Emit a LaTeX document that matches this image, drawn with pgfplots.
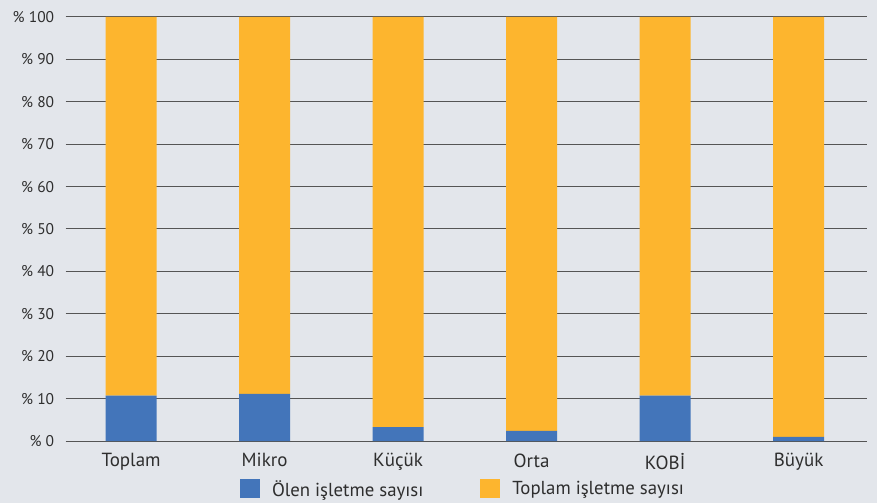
\documentclass[border=0pt]{standalone}
\usepackage{fontspec}
\setmainfont{PT Sans}
\usepackage{pgfplots}
\pgfplotsset{compat=1.18}
\definecolor{bg}{HTML}{E3E6EB}
\definecolor{bblue}{HTML}{4375BA}
\definecolor{borange}{HTML}{FDB52E}
\definecolor{txt}{HTML}{2E2E2E}
\definecolor{gridc}{HTML}{555555}
\begin{document}
\begin{tikzpicture}[x=1pt,y=1pt]
\fill[bg] (0,0) rectangle (877,503);
\begin{axis}[
  at={(65.7pt,62pt)}, anchor=south west,
  scale only axis, width=801pt, height=424pt,
  xmin=-0.49, xmax=5.51, ymin=0, ymax=100,
  ybar stacked, bar width=51pt,
  axis line style={draw=none},
  major tick length=0pt,
  ymajorgrids, major grid style={gridc, line width=1pt},
  xtick={0,1,2,3,4,5},
  xticklabels={Toplam,Mikro,Küçük,Orta,KOBİ,Büyük},
  ytick={0,10,...,100},
  yticklabels={\%~0,\%~10,\%~20,\%~30,\%~40,\%~50,\%~60,\%~70,\%~80,\%~90,\%~100},
  yticklabel style={font=\fontsize{15.5}{16}\selectfont, text=txt, xshift=-8pt},
  xticklabel style={font=\fontsize{19}{20}\selectfont, text=txt, yshift=-9pt},
  legend style={at={(0.496,-0.113)}, anchor=center, legend columns=2, draw=none, fill=none,
    font=\fontsize{18.8}{20}\selectfont, text=txt,
    /tikz/every even column/.append style={column sep=55pt}},
  legend image code/.code={\fill[#1, draw=none] (0pt,-9.5pt) rectangle (20pt,9.5pt);
     \path[draw=none, fill=none] (0pt,0pt) (30pt,0pt);},
  legend cell align=left,
]
\addplot[fill=bblue, draw=none] coordinates {(0,10.7) (1,11.1) (2,3.3) (3,2.4) (4,10.7) (5,0.95)};
\addplot[fill=borange, draw=none] coordinates {(0,89.3) (1,88.9) (2,96.7) (3,97.6) (4,89.3) (5,99.05)};
\legend{Ölen işletme sayısı, Toplam işletme sayısı}
\end{axis}
\end{tikzpicture}
\end{document}
